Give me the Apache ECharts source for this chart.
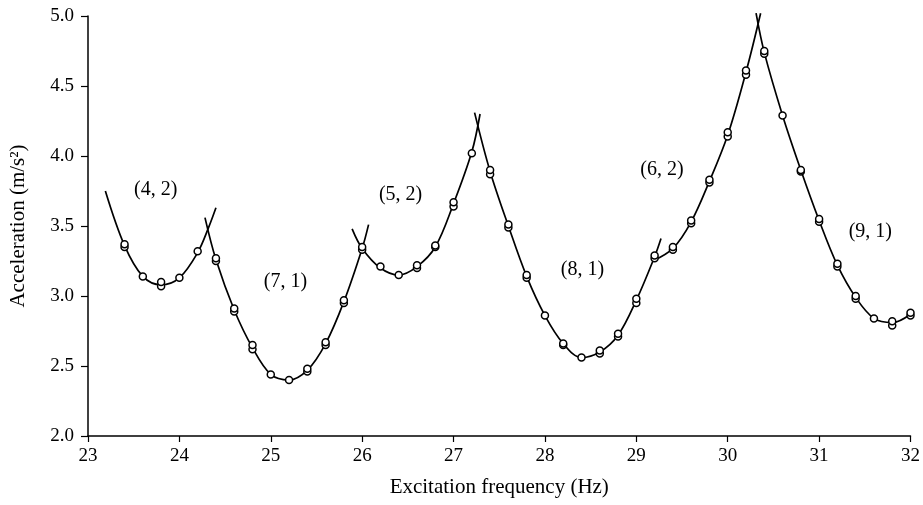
<!DOCTYPE html>
<html>
<head>
<meta charset="utf-8">
<script src="https://cdn.jsdelivr.net/npm/echarts@6/dist/echarts.min.js"></script>
<style>
  html, body { margin: 0; padding: 0; background: #fff; }
  #chart { width: 923px; height: 505px; }
</style>
</head>
<body>
<div id="chart"></div>
<script>
// measured points (open circles), duplicates where two circles overlap
const measFreq = [23.4, 23.4, 23.6, 23.8, 23.8, 24.0, 24.2, 24.4, 24.4, 24.6, 24.6,
  24.8, 24.8, 25.0, 25.2, 25.4, 25.4, 25.6, 25.6, 25.8, 25.8, 26.0, 26.0,
  26.2, 26.4, 26.6, 26.6, 26.8, 26.8, 27.0, 27.0, 27.2, 27.4, 27.4, 27.6, 27.6,
  27.8, 27.8, 28.0, 28.2, 28.2, 28.4, 28.6, 28.6, 28.8, 28.8, 29.0, 29.0,
  29.2, 29.2, 29.4, 29.4, 29.6, 29.6, 29.8, 29.8, 30.0, 30.0, 30.2, 30.2,
  30.4, 30.4, 30.6, 30.8, 30.8, 31.0, 31.0, 31.2, 31.2, 31.4, 31.4, 31.6,
  31.8, 31.8, 32.0, 32.0];
const measAcc = [3.35, 3.37, 3.14, 3.07, 3.10, 3.13, 3.32, 3.25, 3.27, 2.89, 2.91,
  2.62, 2.65, 2.44, 2.40, 2.46, 2.48, 2.65, 2.67, 2.95, 2.97, 3.33, 3.35,
  3.21, 3.15, 3.20, 3.22, 3.35, 3.36, 3.64, 3.67, 4.02, 3.87, 3.90, 3.49, 3.51,
  3.13, 3.15, 2.86, 2.65, 2.66, 2.56, 2.59, 2.61, 2.71, 2.73, 2.95, 2.98,
  3.27, 3.29, 3.33, 3.35, 3.52, 3.54, 3.81, 3.83, 4.14, 4.17, 4.58, 4.61,
  4.73, 4.75, 4.29, 3.89, 3.90, 3.53, 3.55, 3.21, 3.23, 2.98, 3.00, 2.84,
  2.79, 2.82, 2.86, 2.88];

// fitted curves for each mode
const modeNames = ['(4, 2)', '(7, 1)', '(5, 2)', '(8, 1)', '(6, 2)', '(9, 1)'];
const curveFreq = [
  [23.19, 23.4, 23.6, 23.8, 24.0, 24.2, 24.32, 24.40],
  [24.28, 24.4, 24.6, 24.8, 25.0, 25.2, 25.4, 25.6, 25.8, 26.0, 26.07],
  [25.89, 26.0, 26.2, 26.4, 26.6, 26.8, 27.0, 27.2, 27.29],
  [27.23, 27.4, 27.6, 27.8, 28.0, 28.2, 28.4, 28.6, 28.8, 29.0, 29.2, 29.27],
  [29.18, 29.4, 29.6, 29.8, 30.0, 30.2, 30.36],
  [30.31, 30.4, 30.6, 30.8, 31.0, 31.2, 31.4, 31.6, 31.8, 32.0]
];
const curveAcc = [
  [3.75, 3.36, 3.14, 3.08, 3.13, 3.31, 3.49, 3.63],
  [3.56, 3.26, 2.90, 2.63, 2.44, 2.40, 2.47, 2.66, 2.96, 3.34, 3.51],
  [3.48, 3.34, 3.20, 3.15, 3.21, 3.35, 3.66, 4.03, 4.30],
  [4.31, 3.89, 3.50, 3.14, 2.86, 2.66, 2.56, 2.60, 2.72, 2.97, 3.28, 3.41],
  [3.25, 3.34, 3.53, 3.82, 4.15, 4.60, 5.02],
  [5.02, 4.74, 4.29, 3.90, 3.54, 3.22, 2.99, 2.84, 2.81, 2.87]
];
// where each mode label sits (data coords)
const labelFreq = [23.74, 25.16, 26.42, 28.41, 29.28, 31.56];
const labelAcc = [3.76, 3.10, 3.72, 3.19, 3.90, 3.46];

const xTicks = [23, 24, 25, 26, 27, 28, 29, 30, 31, 32];
const yTicks = [2.0, 2.5, 3.0, 3.5, 4.0, 4.5, 5.0];

const font = '"Liberation Serif", "DejaVu Serif", serif';
let chart = echarts.init(document.getElementById('chart'));

let series = [];
curveFreq.forEach(function (fs, i) {
  series.push({
    name: modeNames[i],
    type: 'line',
    smooth: 0.35,
    showSymbol: false,
    silent: true,
    clip: false,
    lineStyle: { color: '#000', width: 1.7 },
    data: fs.map(function (f, j) { return [f, curveAcc[i][j]]; }),
    z: 2
  });
});
series.push({
  name: 'measured',
  type: 'scatter',
  symbol: 'circle',
  symbolSize: 7,
  itemStyle: { color: '#fff', borderColor: '#000', borderWidth: 1.5, opacity: 1 },
  data: measFreq.map(function (f, i) { return [f, measAcc[i]]; }),
  z: 3
});
series.push({
  name: 'labels',
  type: 'scatter',
  symbolSize: 1,
  silent: true,
  itemStyle: { opacity: 0 },
  label: {
    show: true,
    position: 'inside',
    formatter: function (p) { return modeNames[p.dataIndex]; },
    fontFamily: font,
    fontSize: 20,
    color: '#000',
    opacity: 1
  },
  data: labelFreq.map(function (f, i) { return [f, labelAcc[i]]; }),
  z: 4
});

let option = {
  animation: false,
  backgroundColor: '#fff',
  grid: { left: 87, right: 11, top: 16, bottom: 69 },
  xAxis: {
    type: 'value',
    min: xTicks[0],
    max: xTicks[xTicks.length - 1],
    interval: 1,
    name: 'Excitation frequency (Hz)',
    nameLocation: 'middle',
    nameGap: 41,
    nameTextStyle: { fontFamily: font, fontSize: 21, color: '#000' },
    axisLine: { lineStyle: { color: '#000', width: 1.5 } },
    axisTick: { length: 6, lineStyle: { color: '#000', width: 1.2 } },
    axisLabel: { fontFamily: font, fontSize: 19, color: '#000', margin: 11 },
    splitLine: { show: false }
  },
  yAxis: {
    type: 'value',
    min: yTicks[0],
    max: yTicks[yTicks.length - 1],
    interval: 0.5,
    name: 'Acceleration (m/s²)',
    nameLocation: 'middle',
    nameGap: 59,
    nameTextStyle: { fontFamily: font, fontSize: 21, color: '#000' },
    axisLine: { show: true, lineStyle: { color: '#000', width: 1.5 } },
    axisTick: { show: true, length: 7, lineStyle: { color: '#000', width: 1.2 } },
    axisLabel: {
      fontFamily: font, fontSize: 19, color: '#000', margin: 14,
      formatter: function (v) { return v.toFixed(1); }
    },
    splitLine: { show: false }
  },
  series: series
};
chart.setOption(option);
</script>
</body>
</html>
